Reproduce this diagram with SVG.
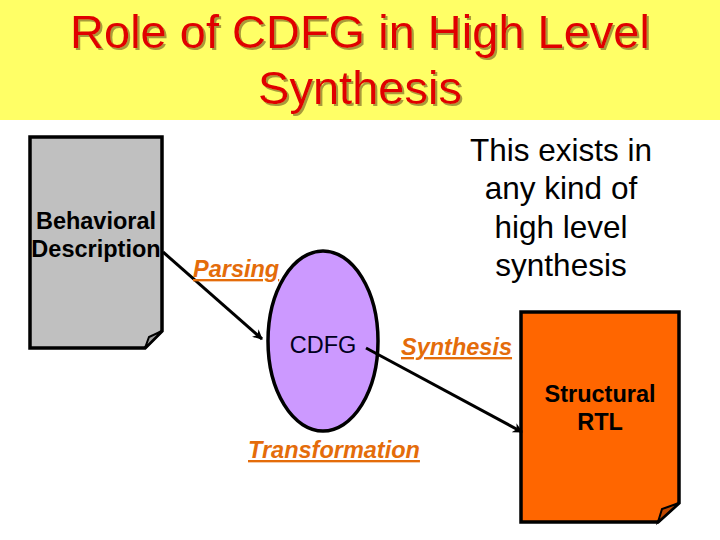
<svg xmlns="http://www.w3.org/2000/svg" width="720" height="540" viewBox="0 0 720 540">
<defs>
<style>
.title{font-family:"Liberation Sans",Arial,sans-serif;font-size:47px;text-anchor:middle;fill:#E00000}
.doc{stroke:#000;stroke-width:3.5;stroke-linejoin:miter}
.lbl{font-family:"Liberation Sans",Arial,sans-serif;font-size:23.5px;font-weight:bold;text-anchor:middle;fill:#000}
.edge{font-family:"Liberation Sans",Arial,sans-serif;font-size:23.5px;font-weight:bold;font-style:italic;text-decoration:underline;fill:#E46C0A}
.note{font-family:"Liberation Sans",Arial,sans-serif;font-size:31.5px;text-anchor:middle;fill:#000}
.conn{stroke:#000;stroke-width:3;fill:none}
</style>
<filter id="sh" x="-5%" y="-20%" width="110%" height="140%">
<feOffset in="SourceAlpha" dx="2" dy="2" result="o"/>
<feFlood flood-color="#A89A3A"/>
<feComposite in2="o" operator="in" result="s"/>
<feMerge><feMergeNode in="s"/><feMergeNode in="SourceGraphic"/></feMerge>
</filter>
<marker id="ah" markerWidth="10" markerHeight="10" refX="9" refY="5" orient="auto" markerUnits="userSpaceOnUse" viewBox="0 0 10 10">
<path d="M0,0 L10,5 L0,10 L3,5 Z" fill="#000"/>
</marker>
</defs>
<rect x="0" y="0" width="720" height="540" fill="#fff"/>
<g id="title">
<rect x="0" y="0" width="720" height="120" fill="#FFFF66"/>
<g filter="url(#sh)">
<text class="title" x="360" y="48">Role of CDFG in High Level</text>
<text class="title" x="360" y="104">Synthesis</text>
</g>
</g>
<g id="behavioral">
<path class="doc" d="M30,137 L162,137 L162,331 L145,348 L30,348 Z" fill="#C0C0C0"/>
<path d="M145,348 L149,337 L162,331 Z" fill="#A0A0A0" stroke="#000" stroke-width="2"/>
<text class="lbl" x="96" y="229">Behavioral</text>
<text class="lbl" x="96" y="257">Description</text>
</g>
<g id="cdfg">
<ellipse cx="323" cy="341" rx="55" ry="90" fill="#CC99FF" stroke="#000" stroke-width="3.5"/>
<text x="323" y="353" font-family="'Liberation Sans',Arial,sans-serif" font-size="23.5" text-anchor="middle" fill="#000020">CDFG</text>
</g>
<g id="rtl">
<path class="doc" d="M521,312 L679,312 L679,503 L658,522 L521,522 Z" fill="#FF6600"/>
<path d="M658,522 L662,509 L679,503 Z" fill="#C04800" stroke="#000" stroke-width="2"/>
<text class="lbl" x="600" y="402">Structural</text>
<text class="lbl" x="600" y="430">RTL</text>
</g>
<g id="note">
<text class="note" x="561" y="161">This exists in</text>
<text class="note" x="561" y="199">any kind of</text>
<text class="note" x="561" y="238">high level</text>
<text class="note" x="561" y="276">synthesis</text>
</g>
<g id="connectors">
<line class="conn" x1="163" y1="252" x2="262" y2="339" marker-end="url(#ah)"/>
<line class="conn" x1="366" y1="348" x2="522" y2="432" marker-end="url(#ah)"/>
<text class="edge" x="193" y="277">Parsing</text>
<text class="edge" x="401" y="355">Synthesis</text>
<text class="edge" x="248" y="458">Transformation</text>
</g>
</svg>
